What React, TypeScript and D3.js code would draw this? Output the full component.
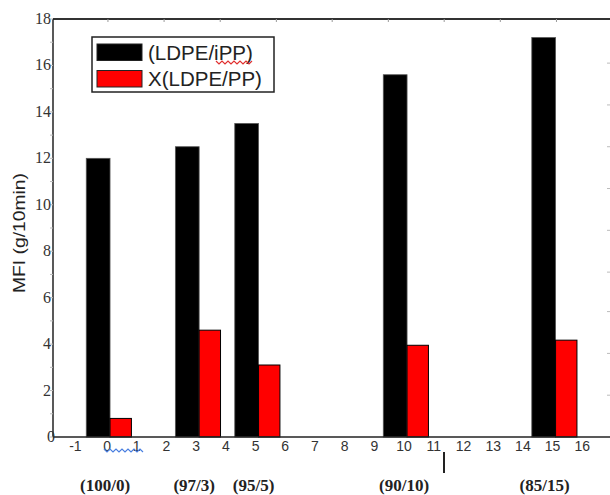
import React, { useEffect, useRef } from 'react';
import * as d3 from 'd3';

// blend positions on the x axis and their group labels
const positions = [0, 3, 5, 10, 15];
const groupLabels = ['(100/0)', '(97/3)', '(95/5)', '(90/10)', '(85/15)'];
// MFI values (g/10min)
const ldpeIpp = [12.0, 12.5, 13.5, 15.6, 17.2];
const xLdpePp = [0.8, 4.6, 3.1, 3.95, 4.17];

const xTicks = d3.range(-1, 17);
const yTicks = [0, 2, 4, 6, 8, 10, 12, 14, 16, 18];
const yMinor = [1, 3, 5, 7, 9, 11, 13, 15, 17];
// leftover ticks of the overlaid frame (top and right)
const topTicks = [0.03, 1.92, 3.81, 5.7, 7.58, 9.47, 11.35, 13.24, 15.13];
const rightTicks = [16.1, 14.3, 12.5, 10.7, 8.9, 7.1, 5.4, 3.6, 1.8];

const legendItems = [
  { label: '(LDPE/iPP)', color: '#000' },
  { label: 'X(LDPE/PP)', color: '#ff0000' },
];

const W = 610;
const H = 495;

const App = () => {
  const ref = useRef<SVGSVGElement>(null);

  useEffect(() => {
    const svg = d3.select(ref.current);
    svg.selectAll('*').remove();

    const left = 53, right = 612, top = 19, bottom = 437;
    const x = d3.scaleLinear().domain([-1.82, 17.0]).range([left, right]);
    const y = d3.scaleLinear().domain([0, 18]).range([bottom, top]);

    const g = svg.append('g');

    // bars
    const data = positions.map((p, i) => ({ p, a: ldpeIpp[i], b: xLdpePp[i] }));
    g.selectAll('.bar-a')
      .data(data)
      .enter().append('rect')
      .attr('x', d => x(d.p - 0.7))
      .attr('y', d => y(d.a))
      .attr('width', x(0.1) - x(-0.7))
      .attr('height', d => y(0) - y(d.a))
      .attr('fill', '#000')
      .attr('stroke', '#555')
      .attr('stroke-width', 0.8);

    g.selectAll('.bar-b')
      .data(data)
      .enter().append('rect')
      .attr('x', d => x(d.p + 0.1))
      .attr('y', d => y(d.b))
      .attr('width', x(0.82) - x(0.1))
      .attr('height', d => y(0) - y(d.b))
      .attr('fill', '#ff0000')
      .attr('stroke', '#000')
      .attr('stroke-width', 1);

    // frame
    const line = (x1: number, y1: number, x2: number, y2: number, c = '#222', w = 1.5) =>
      g.append('line').attr('x1', x1).attr('y1', y1).attr('x2', x2).attr('y2', y2)
        .attr('stroke', c).attr('stroke-width', w);
    line(left, top, right, top, '#333', 1.8);
    line(left, top, left, bottom);
    line(left, bottom, right, bottom);

    // faint ticks
    yMinor.concat(yTicks).forEach(v => line(left - 3, y(v), left, y(v), '#bbb', 1));
    topTicks.forEach(v => line(x(v), top, x(v), top + 3, '#999', 1));
    rightTicks.forEach(v => line(W - 3, y(v), W, y(v), '#bbb', 1));

    // y tick labels
    g.selectAll('.ylab')
      .data(yTicks)
      .enter().append('text')
      .attr('x', d => (d === 0 ? 55 : 51))
      .attr('y', d => y(d) + 5)
      .attr('text-anchor', 'end')
      .attr('font-family', 'Liberation Serif, serif')
      .attr('font-size', 16)
      .attr('fill', '#333')
      .text(d => d);

    // x tick labels
    g.selectAll('.xlab')
      .data(xTicks)
      .enter().append('text')
      .attr('x', d => x(d) - (d < 0 ? 2 : 0))
      .attr('y', 451)
      .attr('text-anchor', 'middle')
      .attr('font-family', 'Liberation Sans, Arial, sans-serif')
      .attr('font-size', 14)
      .attr('fill', '#333')
      .text(d => d);

    // group labels
    g.selectAll('.grp')
      .data(positions)
      .enter().append('text')
      .attr('x', d => x(d) - (d === 0 ? 2 : 0) - (d === 3 ? 2 : 0) - (d === 5 ? 2 : 0) - (d === 15 ? 8 : 0))
      .attr('y', 491)
      .attr('text-anchor', 'middle')
      .attr('font-family', 'Liberation Serif, serif')
      .attr('font-weight', 'bold')
      .attr('font-size', 17)
      .attr('fill', '#222')
      .text((d, i) => groupLabels[i]);

    // stray vertical mark
    line(444, 452, 444, 473, '#222', 2);

    // y axis title
    svg.append('text')
      .attr('transform', `translate(25,${233}) rotate(-90)`)
      .attr('text-anchor', 'middle')
      .attr('font-family', 'Liberation Sans, Arial, sans-serif')
      .attr('font-size', 16)
      .attr('fill', '#222')
      .attr('textLength', 120)
      .attr('lengthAdjust', 'spacingAndGlyphs')
      .text('MFI (g/10min)');

    // legend
    const lg = svg.append('g');
    lg.append('rect').attr('x', 92).attr('y', 37).attr('width', 182).attr('height', 55)
      .attr('fill', '#fff').attr('stroke', '#222').attr('stroke-width', 1.5);
    legendItems.forEach((it, i) => {
      lg.append('rect').attr('x', 97).attr('y', 44 + i * 26.5).attr('width', 45).attr('height', 16.5)
        .attr('fill', it.color).attr('stroke', '#222').attr('stroke-width', 1);
      lg.append('text').attr('x', 148).attr('y', 59.5 + i * 26.5)
        .attr('font-family', 'Liberation Sans, Arial, sans-serif')
        .attr('font-size', 20.5)
        .attr('fill', '#222')
        .text(it.label);
    });

    // spell-check squiggles
    const wave = (x0: number, x1: number, yy: number, c: string) => {
      const pts: [number, number][] = [];
      for (let xx = x0, k = 0; xx <= x1; xx += 3, k++) pts.push([xx, yy + (k % 2 ? 2 : -1)]);
      svg.append('path').attr('d', d3.line()(pts)).attr('fill', 'none')
        .attr('stroke', c).attr('stroke-width', 1.2);
    };
    wave(216, 252, 62, '#e03030');
    wave(104, 145, 450, '#4a7fe0');
  }, []);

  return (
    <svg ref={ref} width={W} height={H}
      style={{ position: 'absolute', left: 0, top: 0, background: '#fff' }} />
  );
};

export default App;
